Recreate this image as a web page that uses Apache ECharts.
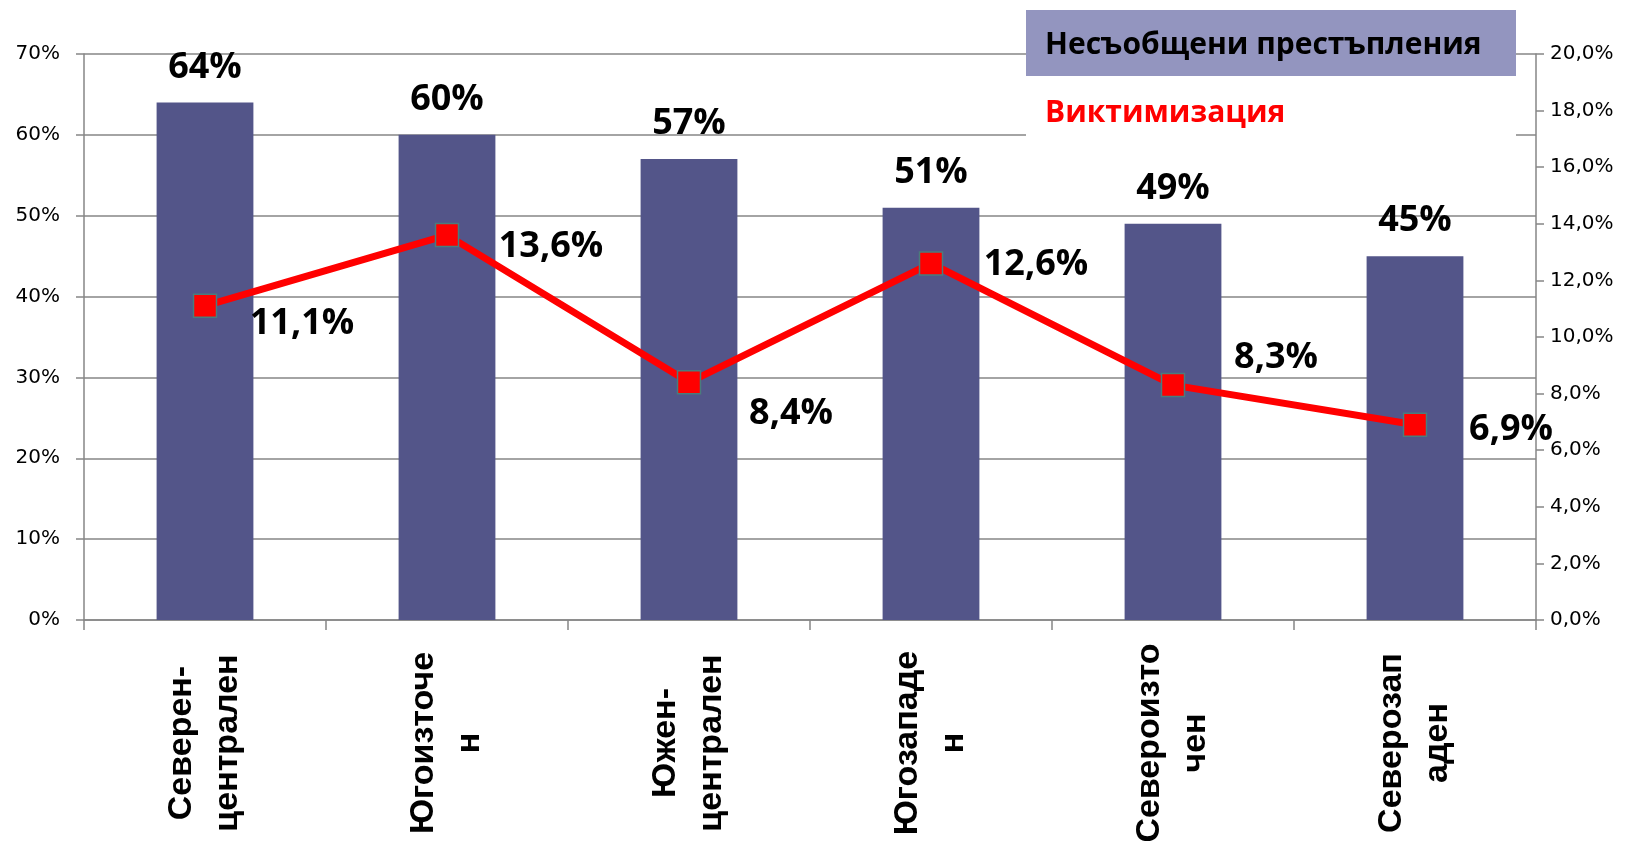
<!DOCTYPE html>
<html>
<head>
<meta charset="utf-8">
<title>Несъобщени престъпления / Виктимизация</title>
<script src="https://cdn.jsdelivr.net/npm/echarts@6/dist/echarts.min.js"></script>
<style>
    html, body { margin: 0; padding: 0; background: #fff; }
    #main { width: 1633px; height: 850px; }
</style>
</head>
<body>
<div id="main"></div>
<script>
    // региони (разделени така, както са на картинката)
    var regions = ['Северен-\nцентрален', 'Югоизточе\nн', 'Южен-\nцентрален', 'Югозападе\nн', 'Североизто\nчен', 'Северозап\nаден'];
    // несъобщени престъпления, % (лява ос)
    var unreported = [64, 60, 57, 51, 49, 45];
    // виктимизация, % (дясна ос)
    var victimization = [11.1, 13.6, 8.4, 12.6, 8.3, 6.9];

    var barName = 'Несъобщени престъпления';
    var lineName = 'Виктимизация';

    // къде стоят надписите на червената линия спрямо точката
    var lineLabelOffsets = [[97, 18], [104, 12], [102, 31], [105, 1], [103, -27], [96, 5]];

    var axisGray = '#868686';
    var tickFont = 'DejaVu Sans';
    var boldFont = 'Open Sans';

    var lineData = victimization.map(function (v, i) {
        return { value: v, label: { offset: lineLabelOffsets[i] } };
    });

    var myChart = echarts.init(document.getElementById('main'));

    myChart.setOption({
        animation: false,
        grid: { left: 84, right: 97, top: 54, bottom: 230, outerBoundsMode: 'none' },
        graphic: [
            { type: 'rect', z: 5, shape: { x: 1026, y: 10, width: 490, height: 66 }, style: { fill: '#9395BF' } },
            { type: 'rect', z: 5, shape: { x: 1026, y: 76, width: 490, height: 70 }, style: { fill: '#ffffff' } }
        ],
        legend: [
            {
                data: [barName], left: 1040, top: 30, padding: 0, z: 10,
                icon: 'none', itemWidth: 0, itemHeight: 0, selectedMode: false,
                textStyle: { fontFamily: boldFont, fontWeight: 'bold', fontSize: 30, color: '#000' }
            },
            {
                data: [lineName], left: 1040, top: 98, padding: 0, z: 10,
                icon: 'none', itemWidth: 0, itemHeight: 0, selectedMode: false,
                textStyle: { fontFamily: boldFont, fontWeight: 'bold', fontSize: 30, color: '#ff0000' }
            }
        ],
        xAxis: {
            type: 'category',
            data: regions,
            axisLine: { lineStyle: { color: axisGray, width: 1.5 } },
            axisTick: { show: true, length: 10, lineStyle: { color: axisGray, width: 1.5 } },
            axisLabel: {
                interval: 0, rotate: 90, align: 'center', verticalAlign: 'middle', margin: 123,
                fontFamily: 'Liberation Sans', fontWeight: 'bold', fontSize: 34, lineHeight: 46, color: '#000'
            }
        },
        yAxis: [
            {
                type: 'value', min: 0, max: 70, interval: 10,
                axisLine: { show: true, lineStyle: { color: axisGray, width: 1.5 } },
                axisTick: { show: true, length: 8, lineStyle: { color: axisGray, width: 1.5 } },
                splitLine: { show: true, lineStyle: { color: axisGray, width: 1.5 } },
                axisLabel: { formatter: '{value}%', margin: 24, fontFamily: tickFont, fontSize: 20, color: '#000' }
            },
            {
                type: 'value', min: 0, max: 20, interval: 2, position: 'right',
                axisLine: { show: true, lineStyle: { color: axisGray, width: 1.5 } },
                axisTick: { show: true, length: 8, lineStyle: { color: axisGray, width: 1.5 } },
                splitLine: { show: false },
                axisLabel: {
                    margin: 14, fontFamily: tickFont, fontSize: 20, color: '#000',
                    formatter: function (v) { return v.toFixed(1).replace('.', ',') + '%'; }
                }
            }
        ],
        series: [
            {
                name: barName,
                type: 'bar',
                data: unreported,
                barWidth: '40%',
                itemStyle: { color: '#535589' },
                label: {
                    show: true, position: 'top', distance: 17, formatter: '{c}%',
                    fontFamily: boldFont, fontWeight: 'bold', fontSize: 36, lineHeight: 36, color: '#000'
                }
            },
            {
                name: lineName,
                type: 'line',
                yAxisIndex: 1,
                data: lineData,
                symbol: 'rect',
                symbolSize: 23,
                lineStyle: { color: '#ff0000', width: 7 },
                itemStyle: { color: '#ff0000', borderColor: '#4a7c7c', borderWidth: 1.5 },
                label: {
                    show: true, position: 'inside',
                    fontFamily: boldFont, fontWeight: 'bold', fontSize: 36, lineHeight: 36, color: '#000',
                    formatter: function (p) { return p.value.toFixed(1).replace('.', ',') + '%'; }
                },
                z: 3
            }
        ]
    });
</script>
</body>
</html>
